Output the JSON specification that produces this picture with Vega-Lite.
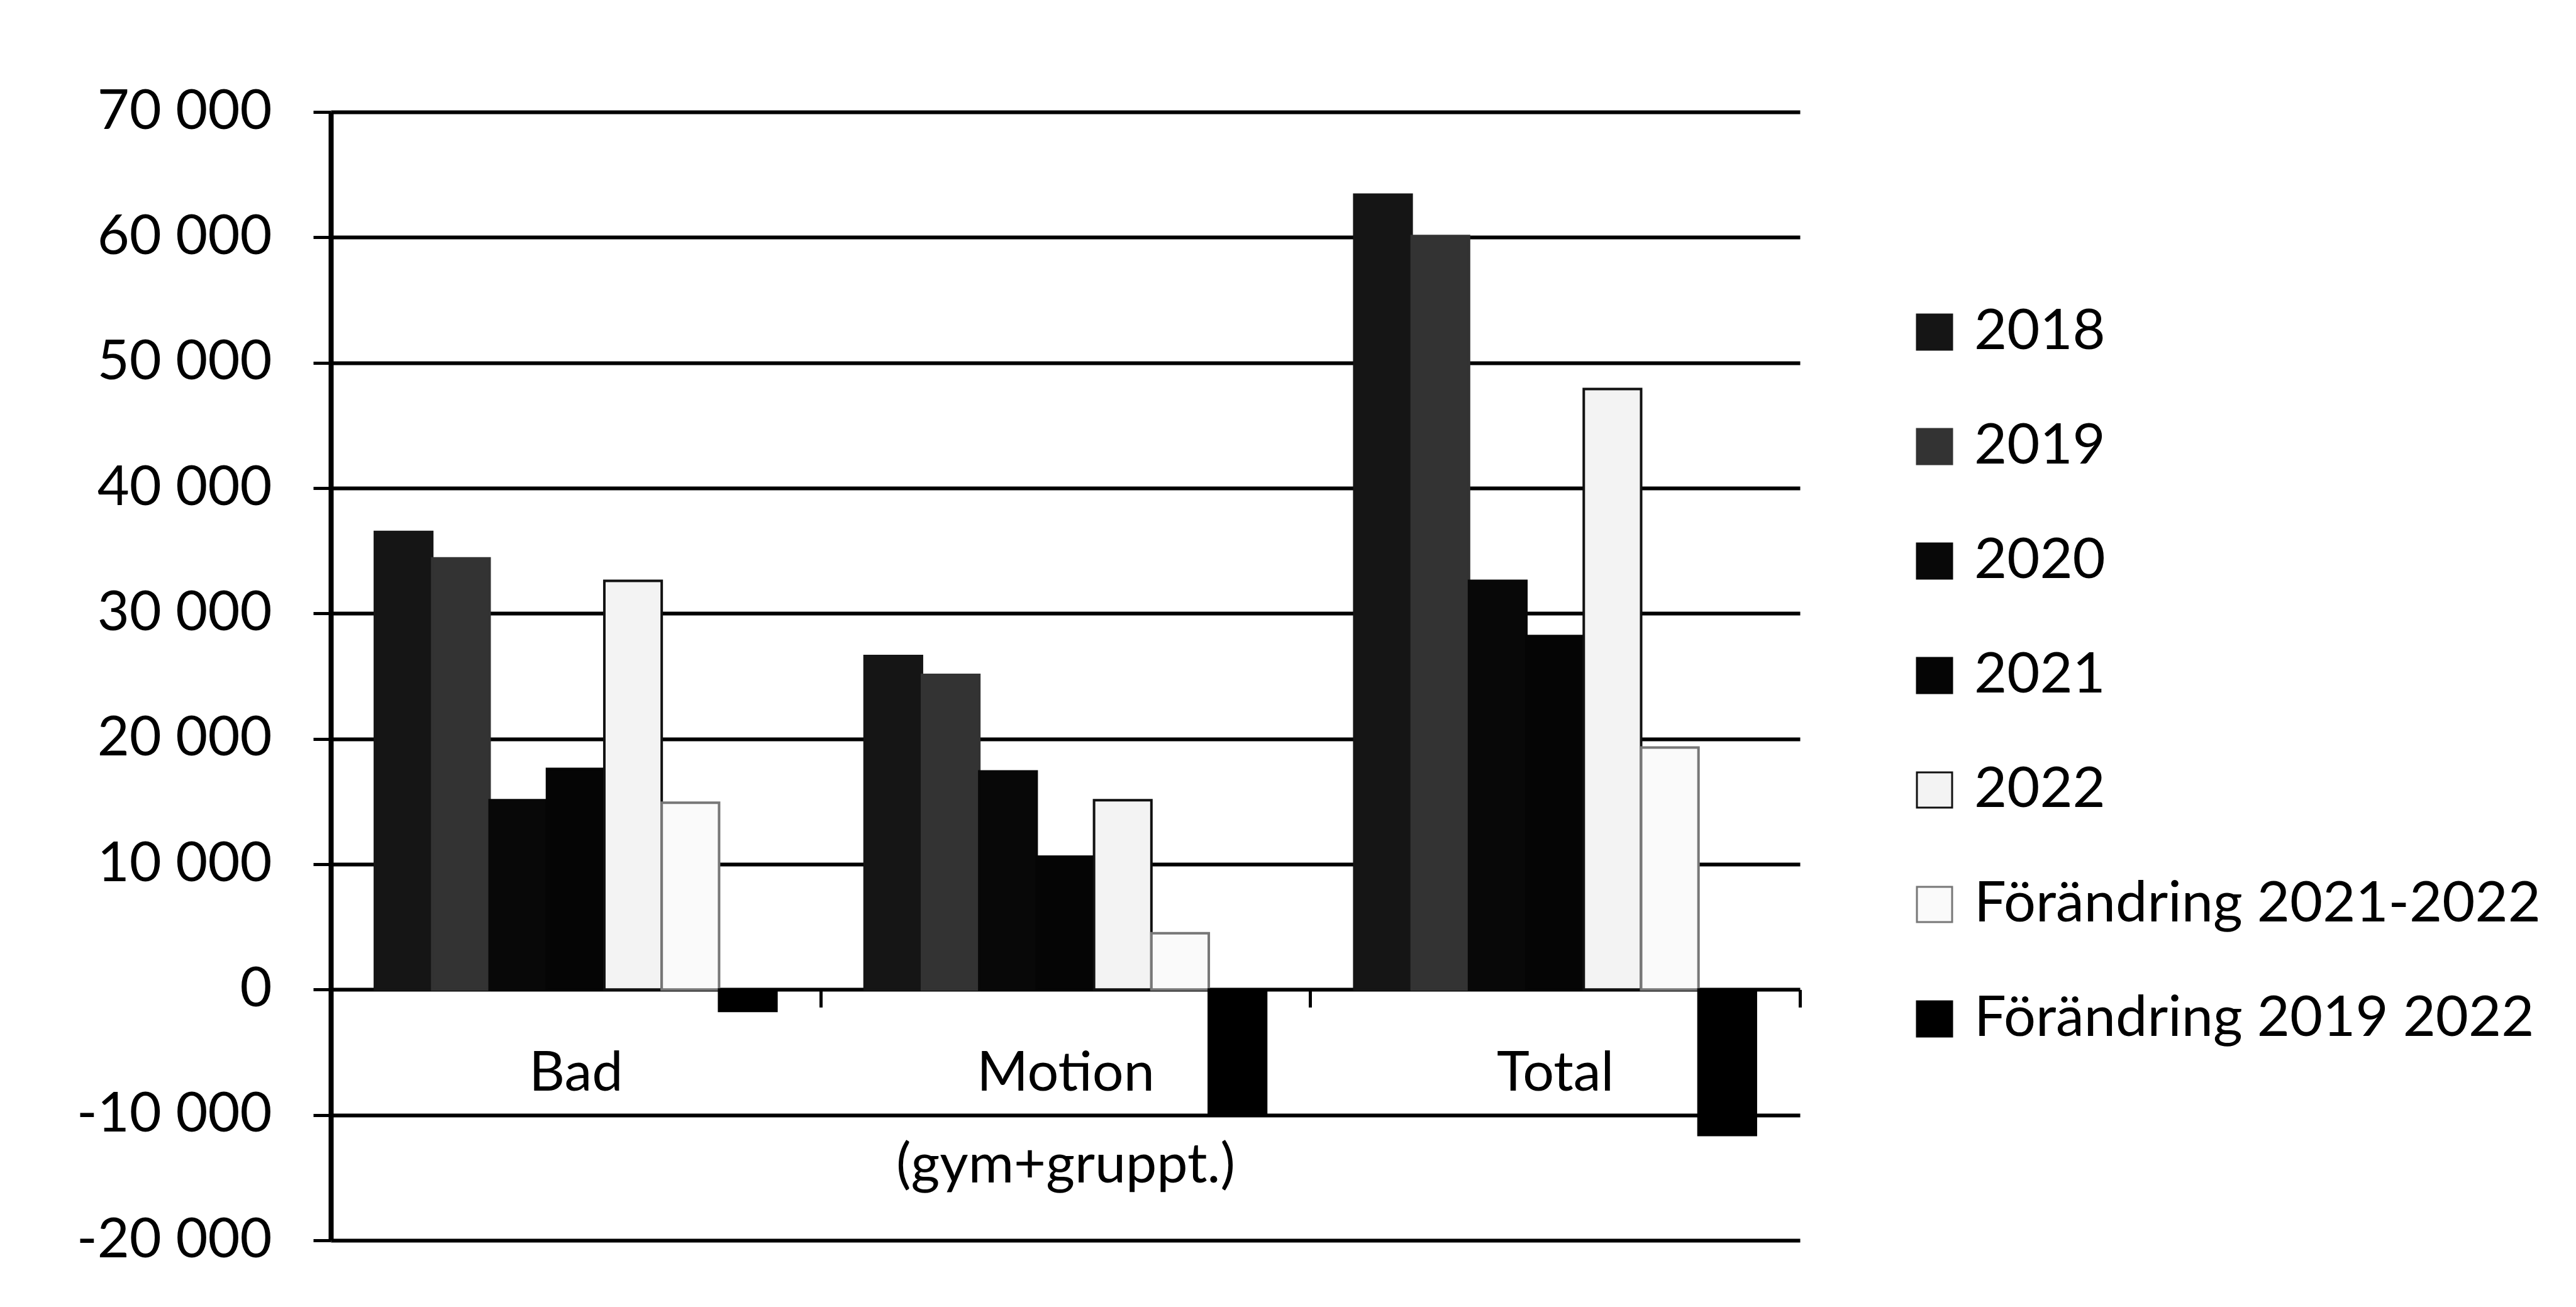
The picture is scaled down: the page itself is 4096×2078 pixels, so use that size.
{
  "$schema": "https://vega.github.io/schema/vega-lite/v6.json",
  "width": 2336,
  "height": 1794,
  "autosize": {"type": "none"},
  "padding": {"left": 526, "top": 178, "right": 1234, "bottom": 106},
  "background": "white",
  "data": {
    "values": [
      {"kategori": "Bad", "serie": "2018", "antal": 36500},
      {"kategori": "Bad", "serie": "2019", "antal": 34400},
      {"kategori": "Bad", "serie": "2020", "antal": 15100},
      {"kategori": "Bad", "serie": "2021", "antal": 17600},
      {"kategori": "Bad", "serie": "2022", "antal": 32600},
      {"kategori": "Bad", "serie": "Förändring 2021-2022", "antal": 14900},
      {"kategori": "Bad", "serie": "Förändring 2019 2022", "antal": -1700},
      {"kategori": "Motion (gym+gruppt.)", "serie": "2018", "antal": 26600},
      {"kategori": "Motion (gym+gruppt.)", "serie": "2019", "antal": 25100},
      {"kategori": "Motion (gym+gruppt.)", "serie": "2020", "antal": 17400},
      {"kategori": "Motion (gym+gruppt.)", "serie": "2021", "antal": 10600},
      {"kategori": "Motion (gym+gruppt.)", "serie": "2022", "antal": 15100},
      {"kategori": "Motion (gym+gruppt.)", "serie": "Förändring 2021-2022", "antal": 4500},
      {"kategori": "Motion (gym+gruppt.)", "serie": "Förändring 2019 2022", "antal": -10000},
      {"kategori": "Total", "serie": "2018", "antal": 63400},
      {"kategori": "Total", "serie": "2019", "antal": 60100},
      {"kategori": "Total", "serie": "2020", "antal": 32600},
      {"kategori": "Total", "serie": "2021", "antal": 28200},
      {"kategori": "Total", "serie": "2022", "antal": 47900},
      {"kategori": "Total", "serie": "Förändring 2021-2022", "antal": 19300},
      {"kategori": "Total", "serie": "Förändring 2019 2022", "antal": -11600}
    ]
  },
  "mark": {"type": "bar", "strokeWidth": 4},
  "encoding": {
    "x": {
      "field": "kategori",
      "type": "nominal",
      "sort": ["Bad", "Motion (gym+gruppt.)", "Total"],
      "scale": {"paddingInner": 0, "paddingOuter": 0},
      "axis": {
        "title": null,
        "orient": "bottom",
        "offset": -398.67,
        "domain": false,
        "grid": false,
        "ticks": true,
        "tickBand": "extent",
        "tickSize": 28,
        "tickWidth": 5,
        "tickColor": "black",
        "labelAngle": 0,
        "labelFont": "Lato",
        "labelFontSize": 88,
        "labelColor": "black",
        "labelBaseline": "top",
        "labelPadding": 62,
        "labelLineHeight": 146,
        "labelLimit": 2000,
        "labelOverlap": false,
        "labelExpr": "datum.label == 'Motion (gym+gruppt.)' ? ['Motion', '(gym+gruppt.)'] : datum.label"
      }
    },
    "xOffset": {
      "field": "serie",
      "type": "nominal",
      "sort": ["2018", "2019", "2020", "2021", "2022", "Förändring 2021-2022", "Förändring 2019 2022"],
      "scale": {"paddingInner": 0, "paddingOuter": 0.768}
    },
    "y": {
      "field": "antal",
      "type": "quantitative",
      "scale": {"domain": [-20000, 70000], "nice": false, "zero": true},
      "axis": {
        "title": null,
        "values": [-20000, -10000, 0, 10000, 20000, 30000, 40000, 50000, 60000, 70000],
        "domain": true,
        "domainColor": "black",
        "domainWidth": 8,
        "ticks": true,
        "tickSize": 28,
        "tickWidth": 5,
        "tickColor": "black",
        "grid": true,
        "gridColor": "black",
        "gridWidth": 6,
        "labelFont": "Lato",
        "labelFontSize": 88,
        "labelColor": "black",
        "labelPadding": 66,
        "labelLimit": 2000,
        "labelOverlap": false,
        "labelExpr": "(datum.value < 0 ? '-' : '') + replace(format(abs(datum.value), ',d'), ',', ' ')"
      }
    },
    "color": {
      "field": "serie",
      "type": "nominal",
      "scale": {
        "domain": ["2018", "2019", "2020", "2021", "2022", "Förändring 2021-2022", "Förändring 2019 2022"],
        "range": ["#151515", "#333333", "#080808", "#050505", "#f3f3f3", "#fafafa", "#000000"]
      },
      "legend": {
        "title": null,
        "orient": "none",
        "legendX": 2505,
        "legendY": 305,
        "padding": 0,
        "symbolType": "square",
        "symbolSize": 3136,
        "symbolStrokeWidth": 3,
        "labelFont": "Lato",
        "labelFontSize": 90,
        "labelColor": "black",
        "labelOffset": 18,
        "rowPadding": 92,
        "labelLimit": 2000
      }
    },
    "stroke": {
      "field": "serie",
      "type": "nominal",
      "scale": {
        "domain": ["2018", "2019", "2020", "2021", "2022", "Förändring 2021-2022", "Förändring 2019 2022"],
        "range": ["#151515", "#333333", "#080808", "#050505", "#111111", "#777777", "#000000"]
      },
      "legend": {
        "title": null,
        "orient": "none",
        "legendX": 2505,
        "legendY": 305,
        "padding": 0,
        "symbolType": "square",
        "symbolSize": 3136,
        "symbolStrokeWidth": 3,
        "labelFont": "Lato",
        "labelFontSize": 90,
        "labelColor": "black",
        "labelOffset": 18,
        "rowPadding": 92,
        "labelLimit": 2000
      }
    }
  },
  "config": {
    "view": {"stroke": null},
    "font": "Lato"
  }
}
